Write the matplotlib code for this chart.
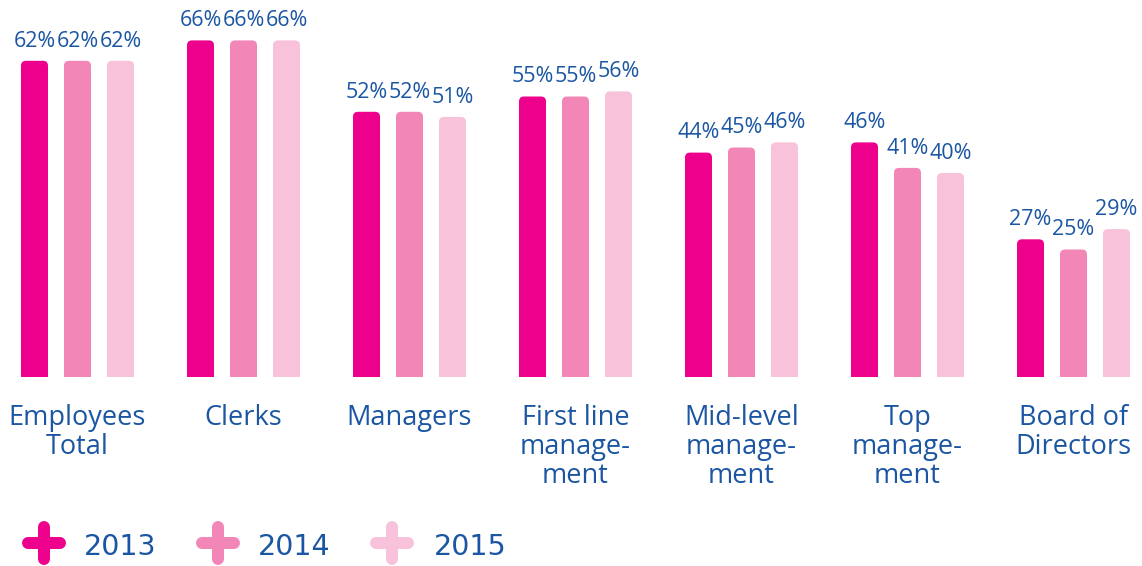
import numpy as np
import matplotlib.pyplot as plt
from matplotlib.patches import FancyBboxPatch
from matplotlib.lines import Line2D

categories = ["Employees\nTotal", "Clerks", "Managers", "First line\nmanage-\nment",
              "Mid-level\nmanage-\nment", "Top\nmanage-\nment", "Board of\nDirectors"]
years = ["2013", "2014", "2015"]
v2013 = [62, 66, 52, 55, 44, 46, 27]
v2014 = [62, 66, 52, 55, 45, 41, 25]
v2015 = [62, 66, 51, 56, 46, 40, 29]
series = [v2013, v2014, v2015]
colors = ["#EC008C", "#F287B7", "#F8C3DA"]
text_col = "#1B56A3"

plt.rcParams['font.family'] = ['Open Sans', 'DejaVu Sans']

W, H = 1142, 566
fig = plt.figure(figsize=(W / 100, H / 100), dpi=100)
base = 377
ax = fig.add_axes([0, (H - base) / H, 1, base / H])

pitch = 166.0
px_per_pct = 5.1
xl = -77.5 / pitch
ax.set_xlim(xl, xl + W / pitch)
ax.set_ylim(0, base / px_per_pct)
ax.axis("off")

x = np.arange(len(categories))
off = 43 / pitch
bw = 27 / pitch
r = 5 / pitch
for i, vals in enumerate(series):
    for xi, v in zip(x, vals):
        cx = xi + (i - 1) * off
        p = FancyBboxPatch((cx - bw / 2, -3), bw, v + 3,
                           boxstyle=f"round,pad=0,rounding_size={r}",
                           mutation_aspect=pitch / px_per_pct,
                           fc=colors[i], ec="none")
        ax.add_patch(p)
        ax.text(cx, v + 1.8, f"{v}%", ha="center", va="bottom",
                fontsize=15.5, color=text_col)

for xi, c in zip(x, categories):
    ax.text(xi, -5.3, c, ha="center", va="top", fontsize=19.5,
            color=text_col, linespacing=1.05, clip_on=False)

# legend with plus markers
centers = [44, 218, 392]
text_x = [84, 258, 434]
cy = 543
arm = 16
lw_px = 12
for c, lab, tx, col in zip(centers, years, text_x, colors):
    for (x0, y0, x1, y1) in [(c - arm, cy, c + arm, cy), (c, cy - arm, c, cy + arm)]:
        fig.add_artist(Line2D([x0 / W, x1 / W], [1 - y0 / H, 1 - y1 / H],
                              transform=fig.transFigure, color=col,
                              lw=lw_px * 0.72, solid_capstyle="round"))
    fig.text(tx / W, 1 - 555 / H, lab, ha="left", va="baseline", fontsize=20.5,
             color=text_col, family="DejaVu Sans")

fig.savefig("out.png", dpi=100)
